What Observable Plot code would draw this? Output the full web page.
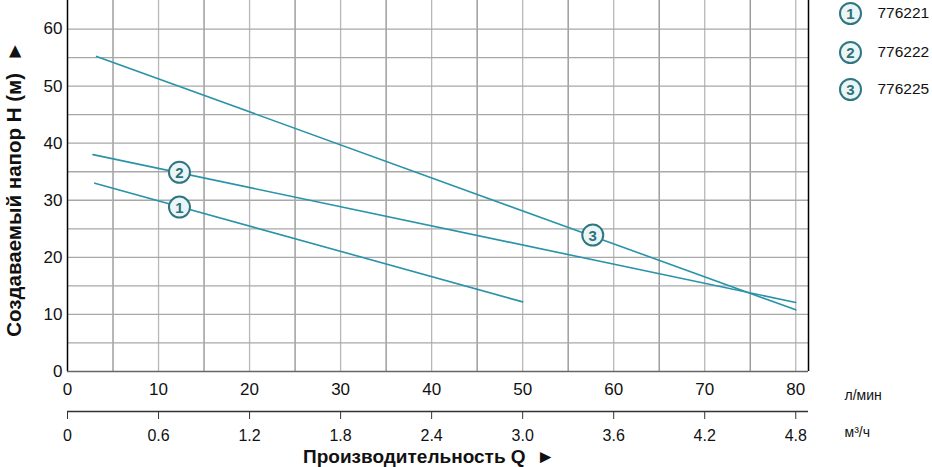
<!DOCTYPE html>
<html>
<head>
<meta charset="utf-8">
<script src="https://cdn.jsdelivr.net/npm/d3@7"></script>
<script src="https://cdn.jsdelivr.net/npm/@observablehq/plot@0.6"></script>
<style>
  body { margin: 0; background: #fff; }
  #chart svg { font-family: "Liberation Sans", Arial, sans-serif; }
</style>
</head>
<body>
<div id="chart"></div>
<script>
// Data
const models = ["776221", "776222", "776225"];
const labels = ["1", "2", "3"];
const q1 = [3.0, 50], h1 = [33.0, 12.2];
const q2 = [2.8, 80], h2 = [38.0, 12.1];
const q3 = [3.2, 80], h3 = [55.2, 10.8];
const labelQ = [12.3, 12.3, 57.7];
const labelH = [28.8, 34.9, 23.9];
const lpmTicks = [0, 10, 20, 30, 40, 50, 60, 70, 80];
const headTicks = [0, 10, 20, 30, 40, 50, 60];
const gridX = d3.range(5, 81, 5);
const gridY = d3.range(5, 65, 5);

const curves = [];
[[q1, h1], [q2, h2], [q3, h3]].forEach(([q, h], i) => {
  q.forEach((v, j) => curves.push({model: models[i], q: v, h: h[j]}));
});
const tags = labels.map((t, i) => ({t, q: labelQ[i], h: labelH[i]}));

const teal = "#2a93a9";
const ringStroke = "#2f7682";
const ringFill = "#eaf5f6";
const ringText = "#2f6f79";

const legendMarks = [];
models.forEach((m, i) => {
  const dy = [13, 52, 89][i];
  legendMarks.push(
    Plot.dot([0], {frameAnchor: "top-right", dx: 42, dy, r: 10.5, fill: ringFill, stroke: ringStroke, strokeWidth: 2}),
    Plot.text([labels[i]], {frameAnchor: "top-right", dx: 42, dy: dy + 1, text: d => d, textAnchor: "middle", lineAnchor: "middle", fill: ringText, fontWeight: "bold", fontSize: 15}),
    Plot.text([m], {frameAnchor: "top-right", dx: 69, dy: dy, text: d => d, textAnchor: "start", lineAnchor: "middle", fill: "#111", fontSize: 15.5})
  );
});

const chart = Plot.plot({
  width: 932,
  height: 467,
  marginLeft: 67,
  marginRight: 124,
  marginTop: 0,
  marginBottom: 96,
  x: {domain: [0, 81.4]},
  y: {domain: [0, 65]},
  marks: [
    Plot.ruleX(gridX.filter(d => d % 10 !== 0), {stroke: "#8f8f8f", strokeWidth: 1.3}),
    Plot.ruleX(gridX.filter(d => d % 10 === 0), {stroke: "#b8b8b8", strokeWidth: 1.3}),
    Plot.ruleY(gridY, {stroke: "#a8a8a8", strokeWidth: 1.3}),
    Plot.ruleX([0, 81.4], {stroke: "#000", strokeWidth: 1.5}),
    Plot.ruleY([0], {stroke: "#666", strokeWidth: 1.5}),
    Plot.line(curves, {x: "q", y: "h", z: "model", stroke: teal, strokeWidth: 1.6}),
    Plot.dot(tags, {x: "q", y: "h", r: 10.5, fill: ringFill, stroke: ringStroke, strokeWidth: 2}),
    Plot.text(tags, {x: "q", y: "h", text: "t", dy: 1, fill: ringText, fontWeight: "bold", fontSize: 15}),
    Plot.axisY({ticks: headTicks, tickSize: 0, tickPadding: 5, fontSize: 17, label: null, fill: "#111"}),
    Plot.axisX({ticks: lpmTicks, tickSize: 0, tickPadding: 11, fontSize: 17, label: null, fill: "#111"}),
    Plot.ruleY([0], {dy: 40, stroke: "#333", strokeWidth: 1.3}),
    Plot.axisX({ticks: lpmTicks, dy: 40, tickSize: 8, tickPadding: 10, fontSize: 16, label: null, fill: "#111", stroke: "#333",
      tickFormat: d => d === 0 ? "0" : (d * 0.06).toFixed(1)}),
    Plot.text(["л/мин"], {frameAnchor: "bottom-right", dx: 36, dy: 24, textAnchor: "start", lineAnchor: "middle", fontSize: 14, fill: "#111"}),
    Plot.text(["м³/ч"], {frameAnchor: "bottom-right", dx: 36, dy: 61, textAnchor: "start", lineAnchor: "middle", fontSize: 14, fill: "#111"}),
    Plot.text(["Производительность Q  ►"], {frameAnchor: "bottom", dx: -9, dy: 85, lineAnchor: "middle", fontSize: 19, fontWeight: "bold", fill: "#111"}),
    Plot.text(["Создаваемый напор H (м)  ►"], {frameAnchor: "left", dx: -53, dy: 3, rotate: -90, textAnchor: "middle", lineAnchor: "middle", fontSize: 20.5, fontWeight: "bold", fill: "#111"}),
    ...legendMarks
  ]
});
document.getElementById("chart").append(chart);
</script>
</body>
</html>
